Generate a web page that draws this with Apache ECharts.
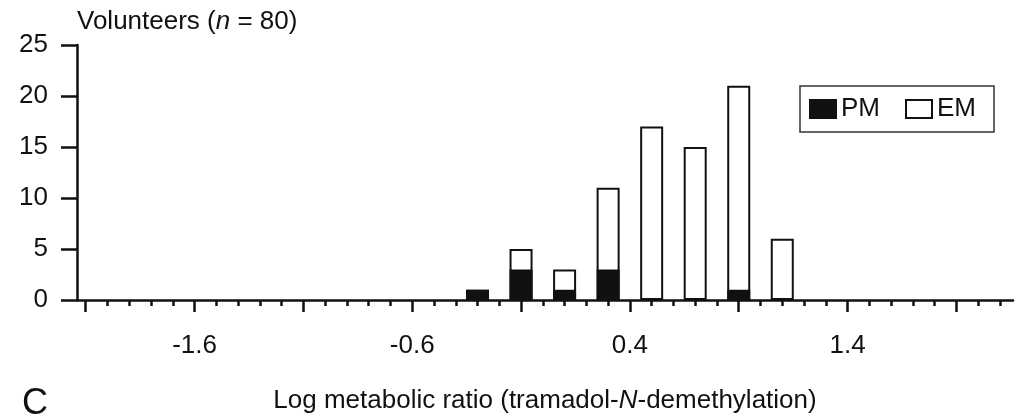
<!DOCTYPE html>
<html>
<head>
<meta charset="utf-8">
<style>
  html, body { margin: 0; padding: 0; background: #fff; }
  #chart { width: 1024px; height: 419px; }
</style>
<script src="https://cdn.jsdelivr.net/npm/echarts@6/dist/echarts.min.js"></script>
</head>
<body>
<div id="chart"></div>
<script>
// bin centres (log metabolic ratio) and counts
const binCenters = [-0.3, -0.1, 0.1, 0.3, 0.5, 0.7, 0.9, 1.1];
const pmCounts = [1, 3, 1, 3, 0, 0, 1, 0];
const emCounts = [0, 2, 2, 8, 17, 15, 20, 6];

// axis ticks / labels
const xLabelValues = [-1.6, -0.6, 0.4, 1.4];
const xMajorTicks = [-2.1, -1.6, -1.1, -0.6, -0.1, 0.4, 0.9, 1.4, 1.9];
const yTicks = [0, 5, 10, 15, 20, 25];

const xMin = -2.14, xMax = 2.16;
const minorTicks = [];
for (let i = 0; i <= 42; i++) minorTicks.push(Math.round((-2.1 + i * 0.1) * 10) / 10);

const FONT = '"Liberation Sans", Arial, sans-serif';
const FS = 26;
const INK = '#111';

const chart = echarts.init(document.getElementById('chart'));

// bars on a value axis don't stack, so the EM bar is drawn up to the PM+EM total
// and the PM bar is painted over its lower part (empty bins left out)
const emTop = binCenters.map((x, i) => [x, pmCounts[i] + emCounts[i]]);
const pmBars = binCenters.map((x, i) => [x, pmCounts[i] || null]);

chart.setOption({
    animation: false,
    textStyle: { fontFamily: FONT, color: INK },
    title: [
        {
            text: 'Volunteers ({i|n} = 80)',
            left: 77, top: 9, padding: 0,
            textStyle: {
                fontFamily: FONT, fontSize: FS, fontWeight: 'normal', color: INK,
                rich: { i: { fontFamily: FONT, fontSize: FS, fontStyle: 'italic', color: INK } }
            }
        },
        {
            text: 'C',
            left: 22, top: 386, padding: 0,
            textStyle: { fontFamily: FONT, fontSize: 36, fontWeight: 'normal', color: INK }
        }
    ],
    legend: {
        data: ['PM', 'EM'],
        left: 800, top: 86,
        icon: 'rect',
        itemWidth: 26, itemHeight: 18,
        itemGap: 25,
        padding: [10, 18, 10, 9],
        borderColor: '#333', borderWidth: 1.5,
        textStyle: { fontFamily: FONT, fontSize: FS, color: INK, padding: [0, 0, 0, 0] }
    },
    grid: { left: 77, right: 11, top: 45, bottom: 119 },
    xAxis: [
        {
            type: 'value', min: xMin, max: xMax,
            name: 'Log metabolic ratio (tramadol-{i|N}-demethylation)',
            nameLocation: 'middle', nameGap: 88,
            nameTextStyle: {
                fontFamily: FONT, fontSize: FS, color: INK, verticalAlign: 'top',
                rich: { i: { fontFamily: FONT, fontSize: FS, fontStyle: 'italic', color: INK } }
            },
            axisLine: { onZero: false, lineStyle: { color: INK, width: 2.5 } },
            axisTick: { customValues: minorTicks, length: 6, lineStyle: { color: INK, width: 2.5 } },
            axisLabel: { customValues: xLabelValues, margin: 33, fontFamily: FONT, fontSize: FS, color: INK },
            splitLine: { show: false }
        },
        {
            type: 'value', min: xMin, max: xMax, position: 'bottom',
            axisLine: { show: false, onZero: false },
            axisTick: { customValues: xMajorTicks, length: 12, lineStyle: { color: INK, width: 2.5 } },
            axisLabel: { show: false },
            splitLine: { show: false }
        }
    ],
    yAxis: {
        type: 'value', min: 0, max: 25,
        axisLine: { show: true, onZero: false, lineStyle: { color: INK, width: 2.5 } },
        axisTick: { show: true, customValues: yTicks, length: 16, lineStyle: { color: INK, width: 2.5 } },
        axisLabel: { customValues: yTicks, margin: 29, fontFamily: FONT, fontSize: FS, color: INK },
        splitLine: { show: false }
    },
    series: [
        {
            name: 'EM', type: 'bar', barWidth: 23, barGap: '-100%',
            itemStyle: { color: '#fff', borderColor: INK, borderWidth: 2 },
            data: emTop
        },
        {
            name: 'PM', type: 'bar', barWidth: 23, barGap: '-100%',
            itemStyle: { color: INK, borderColor: INK, borderWidth: 2 },
            data: pmBars
        }
    ]
});
</script>
</body>
</html>
